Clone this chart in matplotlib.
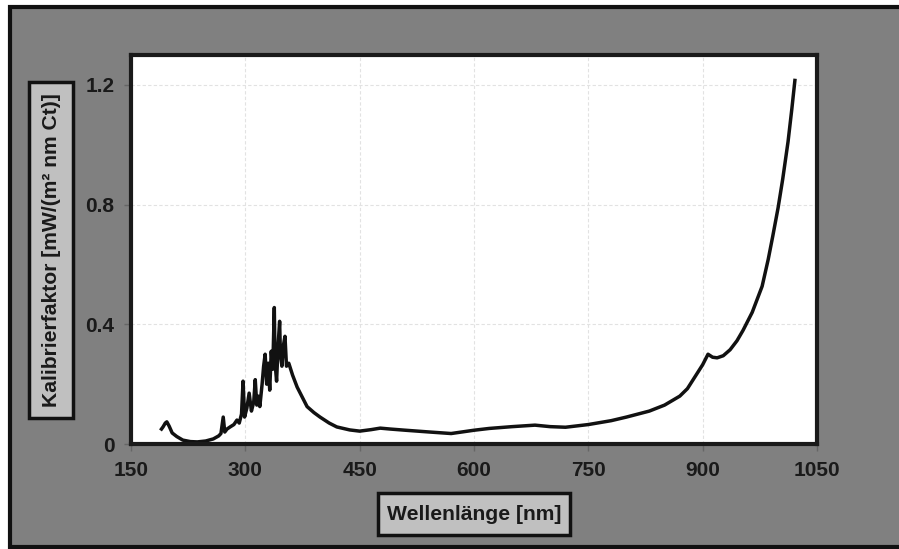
import matplotlib.pyplot as plt
from matplotlib.patches import Rectangle

plt.rcParams['font.family'] = ['Liberation Sans', 'DejaVu Sans']

# wavelength [nm] and calibration factor
wavelength = [190, 192, 195, 197, 200, 204, 210, 218, 228, 237, 248, 258, 265, 268,
              271, 273, 276, 280, 285, 289, 292, 295, 297, 299, 302, 305, 308, 311,
              313, 315, 317, 319, 322, 324, 326, 328, 330, 332, 334, 336, 338, 339,
              341, 343, 345, 346, 348, 350, 352, 354, 357, 362, 368, 375, 381, 390,
              398, 410, 420, 437, 450, 465, 477, 490, 510, 542, 570, 600, 620, 650,
              680, 700, 720, 750, 780, 800, 830, 850, 870, 880, 890, 900, 907, 913,
              919, 927, 936, 945, 953, 965, 978, 986, 992, 999, 1005, 1012, 1017, 1021]
factor = [0.05, 0.057, 0.07, 0.074, 0.06, 0.037, 0.025, 0.013, 0.008, 0.007, 0.01,
          0.017, 0.027, 0.035, 0.09, 0.04, 0.05, 0.057, 0.065, 0.08, 0.07, 0.1, 0.21,
          0.09, 0.12, 0.17, 0.11, 0.14, 0.215, 0.13, 0.16, 0.125, 0.2, 0.26, 0.30,
          0.2, 0.27, 0.18, 0.31, 0.25, 0.456, 0.27, 0.21, 0.33, 0.41, 0.3, 0.26,
          0.33, 0.36, 0.26, 0.27, 0.23, 0.19, 0.155, 0.125, 0.105, 0.09, 0.07, 0.057,
          0.047, 0.043, 0.048, 0.053, 0.05, 0.046, 0.04, 0.035, 0.046, 0.052, 0.058,
          0.063, 0.058, 0.056, 0.065, 0.078, 0.09, 0.11, 0.13, 0.16, 0.185, 0.225,
          0.265, 0.30, 0.29, 0.288, 0.295, 0.315, 0.345, 0.38, 0.44, 0.527, 0.617,
          0.695, 0.79, 0.885, 1.01, 1.12, 1.215]

xticks = [150, 300, 450, 600, 750, 900, 1050]
yticks = [0, 0.4, 0.8, 1.2]
yticklabels = ['0', '0.4', '0.8', '1.2']

W, H = 899, 549
fig = plt.figure(figsize=(8.99, 5.49), dpi=100, facecolor='white')

def px_rect(x0, y0, x1, y1, **kw):
    # rectangle given in image pixels (origin top-left)
    return Rectangle((x0 / W, 1 - y1 / H), (x1 - x0) / W, (y1 - y0) / H,
                     transform=fig.transFigure, **kw)

# grey panel with black frame (right edge runs off the image)
fig.patches.append(px_rect(9.5, 7, 905, 546.5, facecolor='#808080',
                           edgecolor='#111111', lw=3, zorder=-10))

ax = fig.add_axes([131 / W, 105 / H, 686 / W, 389 / H])
ax.set_facecolor('white')
ax.plot(wavelength, factor, color='#111111', lw=2.5, solid_joinstyle='round')

ax.set_xlim(150, 1050)
ax.set_ylim(0, 1.3)
ax.set_xticks(xticks)
ax.set_yticks(yticks)
ax.set_yticklabels(yticklabels)
ax.grid(True, color='#e2e2e2', lw=0.8, linestyle=(0, (3, 2)))
ax.set_axisbelow(True)
for s in ax.spines.values():
    s.set_linewidth(3)
    s.set_color('#1a1a1a')
ax.tick_params(direction='out', length=5, width=1, color='#666666',
               labelsize=15, pad=7, labelcolor='#1a1a1a')
for lab in ax.get_xticklabels() + ax.get_yticklabels():
    lab.set_fontweight('bold')

# axis title boxes
for r in [(378, 493, 570, 535), (29, 82, 73, 418)]:
    fig.patches.append(px_rect(*r, facecolor='#c0c0c0', edgecolor='#111111',
                               lw=2.5, zorder=5))
fig.text(474 / W, 1 - 515 / H, 'Wellenlänge [nm]', ha='center', va='center',
         fontsize=15.2, fontweight='bold', color='#1a1a1a', zorder=6)
fig.text(52 / W, 1 - 250 / H, 'Kalibrierfaktor [mW/(m² nm Ct)]', ha='center',
         va='center', rotation=90, fontsize=15.2, fontweight='bold',
         color='#1a1a1a', zorder=6)

fig.savefig('out.png', dpi=100, facecolor=fig.get_facecolor())
